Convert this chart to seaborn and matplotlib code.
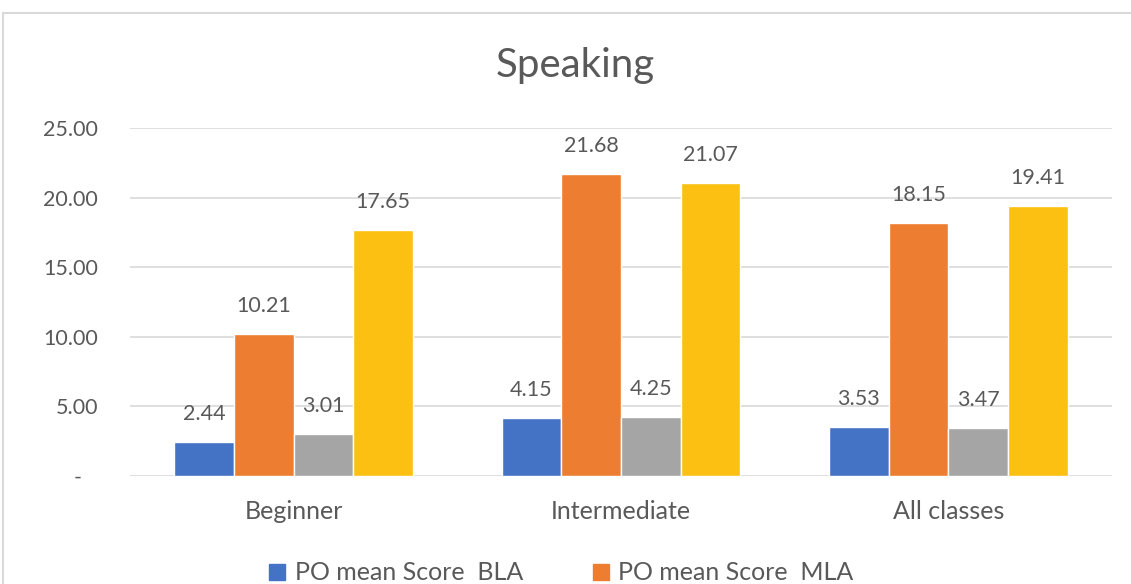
import matplotlib
matplotlib.use("Agg")
import matplotlib.pyplot as plt
from matplotlib.patches import Rectangle
from matplotlib.lines import Line2D
import seaborn as sns
import pandas as pd

# Speaking scores by class level
categories = ["Beginner", "Intermediate", "All classes"]
series_names = ["PO mean Score  BLA", "PO mean Score  MLA", "PR mean Score  BLA", "PR mean Score  MLA"]
po_bla = [2.44, 4.15, 3.53]
po_mla = [10.21, 21.68, 18.15]
pr_bla = [3.01, 4.25, 3.47]
pr_mla = [17.65, 21.07, 19.41]
y_ticks = [0, 5, 10, 15, 20, 25]
y_tick_labels = ["-   ", "5.00", "10.00", "15.00", "20.00", "25.00"]

colors = ["#4472C4", "#ED7D31", "#A5A5A5", "#FCC012"]
text_color = "#595959"

rows = []
for name, vals in zip(series_names, [po_bla, po_mla, pr_bla, pr_mla]):
    for cat, v in zip(categories, vals):
        rows.append({"Class": cat, "Series": name, "Score": v})
df = pd.DataFrame(rows)

sns.set_theme(style="white")
plt.rcParams["font.family"] = ["Lato", "DejaVu Sans"]

fig = plt.figure(figsize=(11.31, 5.84), dpi=100)
W, H = 1131, 584
ax = fig.add_axes([130 / W, 1 - 476 / H, (1112 - 130) / W, (476 - 128) / H])

sns.barplot(data=df, x="Class", y="Score", hue="Series", order=categories,
            hue_order=series_names, palette=colors, width=0.73, gap=0,
            saturation=1, errorbar=None, legend=False, ax=ax, zorder=3)

for cont in ax.containers:
    ax.bar_label(cont, fmt="%.2f", padding=13, fontsize=15.5, color=text_color)

ax.set_ylim(0, 25)
ax.set_xlim(-0.5, 2.5)
ax.set_yticks(y_ticks)
ax.set_yticklabels(y_tick_labels)
ax.yaxis.grid(True, color="#D9D9D9", linewidth=1.2, zorder=0)
ax.set_axisbelow(True)
for s in ax.spines.values():
    s.set_visible(False)
ax.tick_params(axis="y", length=0, pad=23, labelsize=15.5, labelcolor=text_color)
ax.tick_params(axis="x", length=0, pad=17, labelsize=18, labelcolor=text_color)
ax.set_xlabel("")
ax.set_ylabel("")

fig.text(575 / W, 1 - 65 / H, "Speaking", ha="center", va="center",
         fontsize=29, color=text_color)

# chart frame
fig.patches.append(Rectangle((3 / W, -0.2), 1.2, 1 - 13 / H + 0.2,
                             transform=fig.transFigure, fill=False,
                             edgecolor="#D9D9D9", linewidth=1.5))

handles = [Line2D([0], [0], marker="s", linestyle="none", markersize=11,
                  markerfacecolor=c, markeredgecolor=c) for c in colors[:2]]
fig.legend(handles, series_names[:2], loc="center", ncol=2,
           bbox_to_anchor=(559 / W, 1 - 573 / H), frameon=False,
           fontsize=18, labelcolor=text_color, handletextpad=0.2,
           columnspacing=2.6, handlelength=1.0)

fig.savefig("out.png", dpi=100, facecolor="white")
